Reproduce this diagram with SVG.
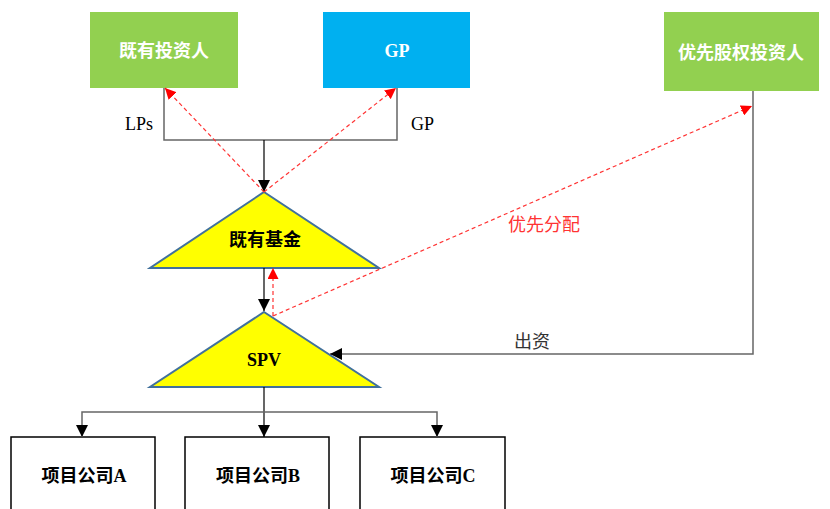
<svg xmlns="http://www.w3.org/2000/svg" width="830" height="509" viewBox="0 0 830 509">
<defs>
<marker id="ab" viewBox="0 0 10 10" refX="10" refY="5" markerWidth="12" markerHeight="12" markerUnits="userSpaceOnUse" orient="auto"><path d="M0,0L10,5L0,10z" fill="#000"/></marker>
<marker id="ar" viewBox="0 0 10 10" refX="10" refY="5" markerWidth="11" markerHeight="11" markerUnits="userSpaceOnUse" orient="auto"><path d="M0,0L10,5L0,10z" fill="#f00"/></marker>
</defs>
<style>
.t{font-family:"Liberation Serif","Noto Sans CJK SC",serif;}
.w{fill:#fff;font-weight:bold;font-size:18px;text-anchor:middle;}
.b{fill:#000;font-weight:bold;font-size:18px;text-anchor:middle;}
.l{fill:#000;font-size:18px;}
.ln{fill:none;stroke:#666;stroke-width:1.5;}
.bk{fill:none;stroke:#000;stroke-width:1.2;}
.rd{fill:none;stroke:#f33;stroke-width:1.2;stroke-dasharray:4,3;}
.tri{fill:#ff0;stroke:#41719C;stroke-width:2;}
.box{fill:#fff;stroke:#000;stroke-width:1.5;}
</style>
<rect width="830" height="509" fill="#fff"/>
<g id="n-existing-investors"><rect x="90" y="12" width="148" height="76" fill="#92D050"/><text class="t w" x="164" y="57">既有投资人</text></g>
<g id="n-gp"><rect x="323" y="12" width="147" height="76" fill="#00B0F0"/><text class="t w" x="397" y="57">GP</text></g>
<g id="n-pref-investors"><rect x="664" y="12" width="155" height="79" fill="#92D050"/><text class="t w" x="741" y="59">优先股权投资人</text></g>
<g id="n-fund"><polygon class="tri" points="264,192 379,268 150,268"/><text class="t b" x="265" y="246">既有基金</text></g>
<g id="n-spv"><polygon class="tri" points="264,312 379,387 150,387"/><text class="t b" x="264" y="366">SPV</text></g>
<g id="n-a"><rect class="box" x="11" y="437" width="144" height="80"/><text class="t b" x="84" y="482">项目公司A</text></g>
<g id="n-b"><rect class="box" x="185" y="437" width="144" height="80"/><text class="t b" x="258" y="482">项目公司B</text></g>
<g id="n-c"><rect class="box" x="360" y="437" width="145" height="80"/><text class="t b" x="433" y="482">项目公司C</text></g>
<g id="connectors">
<polyline class="ln" points="164,88 164,140 397,140 397,88"/>
<line class="bk" x1="264" y1="140" x2="264" y2="192" marker-end="url(#ab)"/>
<line class="bk" x1="264" y1="268" x2="264" y2="311" marker-end="url(#ab)"/>
<polyline class="ln" points="753,91 753,354 330,354" marker-end="url(#ab)"/>
<line class="bk" x1="264" y1="387" x2="264" y2="437" marker-end="url(#ab)"/>
<polyline class="ln" points="264,412 82,412 82,437" marker-end="url(#ab)"/>
<polyline class="ln" points="264,412 437,412 437,437" marker-end="url(#ab)"/>
<line class="rd" x1="264" y1="192" x2="165" y2="88" marker-end="url(#ar)"/>
<line class="rd" x1="264" y1="192" x2="396" y2="88" marker-end="url(#ar)"/>
<line class="rd" x1="273" y1="316" x2="273" y2="268" marker-end="url(#ar)"/>
<line class="rd" x1="273" y1="316" x2="752" y2="106" marker-end="url(#ar)"/>
<text class="t l" x="125" y="130">LPs</text>
<text class="t l" x="411" y="130">GP</text>
<text class="t l" x="508" y="231" style="fill:#f33">优先分配</text>
<text class="t l" x="514" y="348" style="fill:#333">出资</text>
</g>
</svg>
